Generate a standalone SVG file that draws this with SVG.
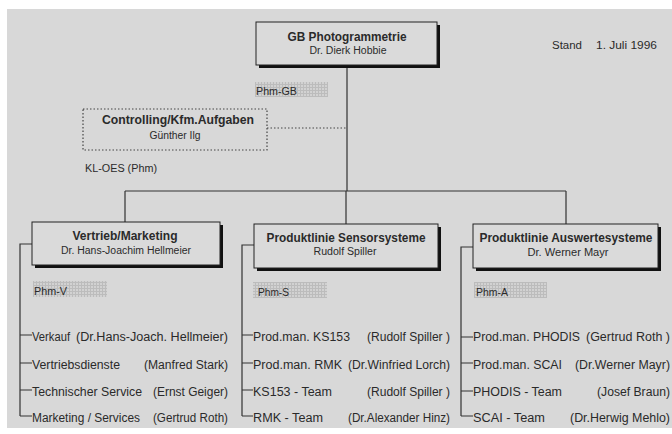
<svg xmlns="http://www.w3.org/2000/svg" width="672" height="434" viewBox="0 0 672 434">
<defs>
<pattern id="hatch" width="3" height="3" patternUnits="userSpaceOnUse">
<rect width="3" height="3" fill="#d2d2d2"/>
<path d="M0 0.5H3M0.5 0V3" stroke="#bcbcbc" stroke-width="1"/>
</pattern>
<style>
text{font-family:"Liberation Sans",Arial,sans-serif;fill:#2a2a2a}
.t{font-size:13px;font-weight:bold;text-anchor:middle}
.s{font-size:10px;text-anchor:middle}
.r{font-size:12px}
.re{font-size:12px;text-anchor:end}
.p{font-size:10px}
.box{fill:#dadada;stroke:#222;stroke-width:1}
.sh{fill:#111}
.ln{stroke:#333;stroke-width:1.2;fill:none}
.hat{fill:url(#hatch)}
</style>
</defs>
<rect width="672" height="434" fill="#ffffff"/>
<rect x="7" y="9" width="665" height="419" fill="#d8d8d8"/>

<g id="connectors">
<path class="ln" d="M347 68V191M125 191H566M125 191V222M346 191V224M566 191V224"/>
<path d="M267 128H347" stroke="#444" stroke-width="1.2" stroke-dasharray="1.5 2" fill="none"/>
<path class="ln" d="M32 244H20V416M20 335H32M20 363H32M20 390H32M20 416H32"/>
<path class="ln" d="M254 245H242V416M242 335H253M242 363H253M242 390H253M242 416H253"/>
<path class="ln" d="M473 247H461V416M461 337H473M461 363H473M461 391H473M461 416H473"/>
</g>

<g id="gb">
<rect class="sh" x="259" y="25" width="181" height="43"/>
<rect class="box" x="256" y="22" width="181" height="43"/>
<text class="t" x="347" y="41" textLength="119" lengthAdjust="spacingAndGlyphs">GB Photogrammetrie</text>
<text class="s" x="348" y="54" textLength="77" lengthAdjust="spacingAndGlyphs">Dr. Dierk Hobbie</text>
</g>

<g id="phm-gb">
<rect class="hat" x="255" y="82" width="73" height="15"/>
<text class="p" x="256" y="95" textLength="41" lengthAdjust="spacingAndGlyphs">Phm-GB</text>
</g>

<g id="stand">
<text class="p" x="552" y="49" textLength="30" lengthAdjust="spacingAndGlyphs">Stand</text>
<text class="p" x="596" y="49" textLength="61" lengthAdjust="spacingAndGlyphs">1. Juli 1996</text>
</g>

<g id="controlling">
<rect x="83" y="109" width="184" height="41" fill="none" stroke="#444" stroke-width="1.2" stroke-dasharray="1.5 2"/>
<text class="t" x="178" y="124" textLength="152" lengthAdjust="spacingAndGlyphs">Controlling/Kfm.Aufgaben</text>
<text class="s" x="175" y="139" textLength="51" lengthAdjust="spacingAndGlyphs">Günther Ilg</text>
<text class="p" x="85" y="172" textLength="72" lengthAdjust="spacingAndGlyphs">KL-OES  (Phm)</text>
</g>

<g id="vertrieb">
<rect class="sh" x="35" y="225" width="188" height="43"/>
<rect class="box" x="32" y="222" width="188" height="43"/>
<text class="t" x="125" y="240" textLength="105" lengthAdjust="spacingAndGlyphs">Vertrieb/Marketing</text>
<text class="s" x="126" y="254" textLength="130" lengthAdjust="spacingAndGlyphs">Dr. Hans-Joachim Hellmeier</text>
<rect class="hat" x="33" y="281" width="74" height="16"/>
<text class="p" x="34" y="295" textLength="33" lengthAdjust="spacingAndGlyphs">Phm-V</text>
<text class="r" x="32" y="341" textLength="38" lengthAdjust="spacingAndGlyphs">Verkauf</text>
<text class="re" x="228" y="341" textLength="152" lengthAdjust="spacingAndGlyphs">(Dr.Hans-Joach. Hellmeier)</text>
<text class="r" x="32" y="369" textLength="88" lengthAdjust="spacingAndGlyphs">Vertriebsdienste</text>
<text class="re" x="228" y="369" textLength="84" lengthAdjust="spacingAndGlyphs">(Manfred Stark)</text>
<text class="r" x="32" y="396" textLength="110" lengthAdjust="spacingAndGlyphs">Technischer Service</text>
<text class="re" x="228" y="396" textLength="75" lengthAdjust="spacingAndGlyphs">(Ernst Geiger)</text>
<text class="r" x="32" y="422" textLength="108" lengthAdjust="spacingAndGlyphs">Marketing / Services</text>
<text class="re" x="228" y="422" textLength="75" lengthAdjust="spacingAndGlyphs">(Gertrud Roth)</text>
</g>

<g id="sensor">
<rect class="sh" x="257" y="227" width="184" height="44"/>
<rect class="box" x="254" y="224" width="184" height="44"/>
<text class="t" x="346" y="242" textLength="159" lengthAdjust="spacingAndGlyphs">Produktlinie Sensorsysteme</text>
<text class="s" x="345" y="255" textLength="63" lengthAdjust="spacingAndGlyphs">Rudolf Spiller</text>
<rect class="hat" x="253" y="282" width="74" height="16"/>
<text class="p" x="258" y="296" textLength="31" lengthAdjust="spacingAndGlyphs">Phm-S</text>
<text class="r" x="253" y="341" textLength="97" lengthAdjust="spacingAndGlyphs">Prod.man. KS153</text>
<text class="re" x="450" y="341" textLength="83" lengthAdjust="spacingAndGlyphs">(Rudolf Spiller )</text>
<text class="r" x="253" y="369" textLength="89" lengthAdjust="spacingAndGlyphs">Prod.man. RMK</text>
<text class="re" x="450" y="369" textLength="102" lengthAdjust="spacingAndGlyphs">(Dr.Winfried Lorch)</text>
<text class="r" x="253" y="396" textLength="79" lengthAdjust="spacingAndGlyphs">KS153 - Team</text>
<text class="re" x="450" y="396" textLength="83" lengthAdjust="spacingAndGlyphs">(Rudolf Spiller )</text>
<text class="r" x="253" y="422" textLength="70" lengthAdjust="spacingAndGlyphs">RMK - Team</text>
<text class="re" x="450" y="422" textLength="102" lengthAdjust="spacingAndGlyphs">(Dr.Alexander Hinz)</text>
</g>

<g id="auswerte">
<rect class="sh" x="476" y="227" width="185" height="44"/>
<rect class="box" x="473" y="224" width="185" height="44"/>
<text class="t" x="566" y="242" textLength="173" lengthAdjust="spacingAndGlyphs">Produktlinie Auswertesysteme</text>
<text class="s" x="568" y="256" textLength="81" lengthAdjust="spacingAndGlyphs">Dr. Werner Mayr</text>
<rect class="hat" x="474" y="282" width="73" height="16"/>
<text class="p" x="476" y="296" textLength="32" lengthAdjust="spacingAndGlyphs">Phm-A</text>
<text class="r" x="473" y="341" textLength="107" lengthAdjust="spacingAndGlyphs">Prod.man. PHODIS</text>
<text class="re" x="670" y="341" textLength="84" lengthAdjust="spacingAndGlyphs">(Gertrud Roth )</text>
<text class="r" x="473" y="369" textLength="89" lengthAdjust="spacingAndGlyphs">Prod.man. SCAI</text>
<text class="re" x="670" y="369" textLength="95" lengthAdjust="spacingAndGlyphs">(Dr.Werner Mayr)</text>
<text class="r" x="473" y="396" textLength="89" lengthAdjust="spacingAndGlyphs">PHODIS - Team</text>
<text class="re" x="670" y="396" textLength="73" lengthAdjust="spacingAndGlyphs">(Josef Braun)</text>
<text class="r" x="473" y="422" textLength="72" lengthAdjust="spacingAndGlyphs">SCAI - Team</text>
<text class="re" x="670" y="422" textLength="100" lengthAdjust="spacingAndGlyphs">(Dr.Herwig Mehlo)</text>
</g>
</svg>
